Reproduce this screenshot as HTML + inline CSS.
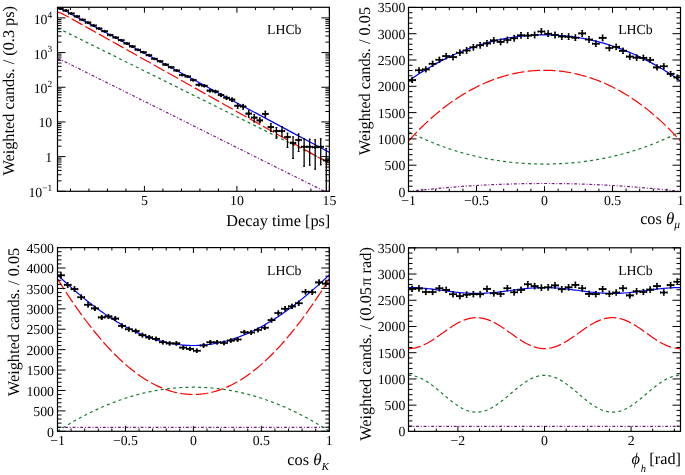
<!DOCTYPE html>
<html><head><meta charset="utf-8"><style>html,body{margin:0;padding:0;background:#fff;width:685px;height:475px;overflow:hidden}svg{display:block;will-change:transform;text-rendering:geometricPrecision}</style></head><body>
<svg width="685" height="475" viewBox="0 0 685 475" font-family='"Liberation Serif", serif'>
<rect width="685" height="475" fill="#fff"/>
<defs>
<clipPath id="cTL"><rect x="57.5" y="7.3" width="271.9" height="184.0"/></clipPath>
<clipPath id="cTR"><rect x="408.5" y="7.4" width="272.0" height="184.1"/></clipPath>
<clipPath id="cBL"><rect x="57.5" y="247.6" width="271.8" height="183.70000000000002"/></clipPath>
<clipPath id="cBR"><rect x="408.5" y="247.8" width="272.0" height="183.59999999999997"/></clipPath>
</defs>
<path d="M57.50 59.27 L58.50 59.40 L59.50 59.64 L60.50 59.95 L61.50 60.31 L62.50 60.71 L63.50 61.14 L64.50 61.59 L65.50 62.06 L66.50 62.53 L67.50 63.01 L68.50 63.50 L69.50 63.99 L70.50 64.48 L90.50 74.45 L110.50 84.44 L130.50 94.43 L150.50 104.41 L170.50 114.40 L190.50 124.39 L210.50 134.38 L230.50 144.37 L250.50 154.35 L270.50 164.34 L290.50 174.33 L310.50 184.32 L330.00 194.06" fill="none" stroke="#7a1a8c" stroke-width="1.2" stroke-dasharray="2.9 1.85 0.95 1.85" clip-path="url(#cTL)" stroke-linejoin="round"/>
<path d="M57.50 28.50 L58.50 28.83 L59.50 29.20 L60.50 29.61 L61.50 30.04 L62.50 30.49 L63.50 30.96 L64.50 31.43 L65.50 31.91 L66.50 32.39 L67.50 32.88 L68.50 33.37 L69.50 33.86 L70.50 34.35 L90.50 44.25 L110.50 54.15 L130.50 64.06 L150.50 73.97 L170.50 83.87 L190.50 93.78 L210.50 103.68 L230.50 113.59 L250.50 123.50 L270.50 133.40 L290.50 143.31 L310.50 153.21 L330.00 162.87" fill="none" stroke="#157a2a" stroke-width="1.2" stroke-dasharray="3.0 3.23" clip-path="url(#cTL)" stroke-linejoin="round"/>
<path d="M57.50 12.15 L58.50 12.35 L59.50 12.64 L60.50 13.02 L61.50 13.44 L62.50 13.91 L63.50 14.40 L64.50 14.91 L65.50 15.44 L66.50 15.97 L67.50 16.51 L68.50 17.06 L69.50 17.62 L70.50 18.17 L90.50 29.38 L110.50 40.61 L130.50 51.84 L150.50 63.06 L170.50 74.29 L190.50 85.52 L210.50 96.75 L230.50 107.98 L250.50 119.20 L270.50 130.43 L290.50 141.66 L310.50 152.89 L330.00 163.84" fill="none" stroke="#ff0000" stroke-width="1.2" stroke-dasharray="12.4 3.28" clip-path="url(#cTL)" stroke-linejoin="round"/>
<path d="M57.50 7.97 L58.50 8.14 L59.50 8.41 L60.50 8.76 L61.50 9.16 L62.50 9.60 L63.50 10.07 L64.50 10.55 L65.50 11.05 L66.50 11.56 L67.50 12.08 L68.50 12.60 L69.50 13.13 L70.50 13.66 L90.50 24.37 L110.50 35.09 L130.50 45.82 L150.50 56.54 L170.50 67.26 L190.50 77.99 L210.50 88.71 L230.50 99.44 L250.50 110.16 L270.50 120.88 L290.50 131.61 L310.50 142.33 L330.00 152.79" fill="none" stroke="#0000ff" stroke-width="1.2" clip-path="url(#cTL)" stroke-linejoin="round"/>
<path d="M57.19 8.40H63.43M62.73 10.60H68.97M68.27 13.50H74.51M73.81 16.40H80.05M79.36 19.70H85.60M84.90 22.60H91.14M90.44 25.50H96.68M95.98 28.50H102.22M101.52 31.20H107.76M107.06 35.00H113.30M112.60 37.50H118.84M118.14 40.20H124.38M123.68 43.40H129.92M129.22 46.40H135.46M134.77 49.70H141.01M140.31 52.20H146.55M145.85 55.20H152.09M151.39 58.80H157.63M156.93 61.30H163.17M162.47 64.60H168.71M168.01 67.30H174.25M173.55 70.50H179.79M179.09 75.00H185.33M184.63 76.50H190.87M190.18 80.00H196.42M195.72 84.80H201.96M201.26 85.80H207.50M206.80 90.60H213.04M212.34 91.50H218.58M217.88 95.00H224.12M223.42 97.70H229.66M228.96 99.60H235.20M234.50 105.80H240.74M240.04 106.50H246.28M245.59 113.60H251.83M251.13 117.60H257.37M256.67 120.40H262.91M262.21 113.90H268.45M267.75 127.10H273.99M273.29 131.00H279.53M278.83 131.00H285.07M284.37 137.00H290.61M289.91 143.00H296.15M295.45 140.00H301.69M301.00 146.80H307.24M306.54 146.80H312.78M312.08 147.30H318.32M317.62 146.80H323.86M323.16 160.30H329.40" stroke="#000" stroke-width="1.6" fill="none" clip-path="url(#cTL)"/>
<path d="M60.31 8.29V8.51M65.85 10.48V10.72M71.39 13.37V13.63M76.93 16.26V16.54M82.48 19.54V19.86M88.02 22.42V22.78M93.56 25.31V25.70M99.10 28.29V28.72M104.64 30.97V31.44M110.18 34.74V35.27M115.72 37.21V37.79M121.26 39.89V40.52M126.80 43.05V43.76M132.34 46.02V46.79M137.89 49.27V50.14M143.43 51.74V52.68M148.97 54.69V55.73M154.51 58.23V59.40M160.05 60.68V61.95M165.59 63.91V65.33M171.13 66.54V68.10M176.67 69.66V71.39M182.21 74.03V76.04M187.75 75.48V77.59M193.30 78.86V81.23M198.84 83.47V86.26M204.38 84.43V87.31M209.92 89.00V92.38M215.46 89.86V93.34M221.00 93.17V97.09M226.54 95.71V100.00M232.08 97.49V102.06M237.62 103.24V108.88M243.16 103.89V109.66M248.71 110.36V117.73M254.25 113.96V122.42M259.79 117.40V123.20M265.33 110.70V117.40M270.87 123.20V132.00M276.41 127.00V138.70M281.95 126.10V136.80M287.49 132.70V148.00M293.03 136.40V158.90M298.57 133.60V152.00M304.12 138.40V166.70M309.66 138.70V165.70M315.20 139.30V169.70M320.74 138.30V165.30M326.28 148.00V193.00" stroke="#000" stroke-width="1.3" fill="none" clip-path="url(#cTL)"/>
<path d="M57.69 7.30v2.20M62.93 7.30v2.20M59.41 8.79h1.80M59.41 8.01h1.80M63.23 9.50v2.20M68.47 9.50v2.20M64.95 10.98h1.80M64.95 10.22h1.80M68.77 12.40v2.20M74.01 12.40v2.20M70.49 13.87h1.80M70.49 13.13h1.80M74.31 15.30v2.20M79.55 15.30v2.20M76.03 16.76h1.80M76.03 16.04h1.80M79.86 18.60v2.20M85.10 18.60v2.20M81.58 20.04h1.80M81.58 19.36h1.80M85.40 21.50v2.20M90.64 21.50v2.20M87.12 22.92h1.80M87.12 22.28h1.80M90.94 24.40v2.20M96.18 24.40v2.20M92.66 25.81h1.80M92.66 25.20h1.80M96.48 27.40v2.20M101.72 27.40v2.20M98.20 28.79h1.80M98.20 28.22h1.80M102.02 30.10v2.20M107.26 30.10v2.20M103.74 31.47h1.80M103.74 30.94h1.80M107.56 33.90v2.20M112.80 33.90v2.20M109.28 35.24h1.80M109.28 34.77h1.80M113.10 36.40v2.20M118.34 36.40v2.20M114.82 37.71h1.80M114.82 37.29h1.80M118.64 39.10v2.20M123.88 39.10v2.20M120.36 40.39h1.80M120.36 40.02h1.80M124.18 42.30v2.20M129.42 42.30v2.20M125.90 43.55h1.80M125.90 43.26h1.80M129.72 45.30v2.20M134.96 45.30v2.20M131.44 46.52h1.80M131.44 46.29h1.80M135.27 48.60v2.20M140.51 48.60v2.20M136.99 49.77h1.80M136.99 49.64h1.80M140.81 51.10v2.20M146.05 51.10v2.20M142.53 52.24h1.80M142.53 52.18h1.80M146.35 54.10v2.20M151.59 54.10v2.20M148.07 55.19h1.80M148.07 55.23h1.80M151.89 57.70v2.20M157.13 57.70v2.20M153.61 58.73h1.80M153.61 58.90h1.80M157.43 60.20v2.20M162.67 60.20v2.20M159.15 61.18h1.80M159.15 61.45h1.80M162.97 63.50v2.20M168.21 63.50v2.20M164.69 64.41h1.80M164.69 64.83h1.80M168.51 66.20v2.20M173.75 66.20v2.20M170.23 67.04h1.80M170.23 67.60h1.80M174.05 69.40v2.20M179.29 69.40v2.20M175.77 70.16h1.80M175.77 70.89h1.80M179.59 73.90v2.20M184.83 73.90v2.20M181.31 74.53h1.80M181.31 75.54h1.80M185.13 75.40v2.20M190.37 75.40v2.20M186.85 75.98h1.80M186.85 77.09h1.80M190.68 78.90v2.20M195.92 78.90v2.20M192.40 79.36h1.80M192.40 80.73h1.80M196.22 83.70v2.20M201.46 83.70v2.20M197.94 83.97h1.80M197.94 85.76h1.80M201.76 84.70v2.20M207.00 84.70v2.20M203.48 84.93h1.80M203.48 86.81h1.80M207.30 89.50v2.20M212.54 89.50v2.20M209.02 89.50h1.80M209.02 91.88h1.80M212.84 90.40v2.20M218.08 90.40v2.20M214.56 90.36h1.80M214.56 92.84h1.80M218.38 93.90v2.20M223.62 93.90v2.20M220.10 93.67h1.80M220.10 96.59h1.80M223.92 96.60v2.20M229.16 96.60v2.20M225.64 96.21h1.80M225.64 99.50h1.80M229.46 98.50v2.20M234.70 98.50v2.20M231.18 97.99h1.80M231.18 101.56h1.80M235.00 104.70v2.20M240.24 104.70v2.20M236.72 103.74h1.80M236.72 108.38h1.80M240.54 105.40v2.20M245.78 105.40v2.20M242.26 104.39h1.80M242.26 109.16h1.80M246.09 112.50v2.20M251.33 112.50v2.20M247.81 110.86h1.80M247.81 117.23h1.80M251.63 116.50v2.20M256.87 116.50v2.20M253.35 114.46h1.80M253.35 121.92h1.80M257.17 119.30v2.20M262.41 119.30v2.20M258.89 117.90h1.80M258.89 122.70h1.80M262.71 112.80v2.20M267.95 112.80v2.20M264.43 111.20h1.80M264.43 116.90h1.80M268.25 126.00v2.20M273.49 126.00v2.20M269.97 123.70h1.80M269.97 131.50h1.80M273.79 129.90v2.20M279.03 129.90v2.20M275.51 127.50h1.80M275.51 138.20h1.80M279.33 129.90v2.20M284.57 129.90v2.20M281.05 126.60h1.80M281.05 136.30h1.80M284.87 135.90v2.20M290.11 135.90v2.20M286.59 133.20h1.80M286.59 147.50h1.80M290.41 141.90v2.20M295.65 141.90v2.20M292.13 136.90h1.80M292.13 158.40h1.80M295.95 138.90v2.20M301.19 138.90v2.20M297.67 134.10h1.80M297.67 151.50h1.80M301.50 145.70v2.20M306.74 145.70v2.20M303.22 138.90h1.80M303.22 166.20h1.80M307.04 145.70v2.20M312.28 145.70v2.20M308.76 139.20h1.80M308.76 165.20h1.80M312.58 146.20v2.20M317.82 146.20v2.20M314.30 139.80h1.80M314.30 169.20h1.80M318.12 145.70v2.20M323.36 145.70v2.20M319.84 138.80h1.80M319.84 164.80h1.80M323.66 159.20v2.20M328.90 159.20v2.20M325.38 148.50h1.80M325.38 192.50h1.80" stroke="#000" stroke-width="1" fill="none" clip-path="url(#cTL)"/>
<g fill="#000" clip-path="url(#cTL)"><circle cx="60.31" cy="8.40" r="1.5"/><circle cx="65.85" cy="10.60" r="1.5"/><circle cx="71.39" cy="13.50" r="1.5"/><circle cx="76.93" cy="16.40" r="1.5"/><circle cx="82.48" cy="19.70" r="1.5"/><circle cx="88.02" cy="22.60" r="1.5"/><circle cx="93.56" cy="25.50" r="1.5"/><circle cx="99.10" cy="28.50" r="1.5"/><circle cx="104.64" cy="31.20" r="1.5"/><circle cx="110.18" cy="35.00" r="1.5"/><circle cx="115.72" cy="37.50" r="1.5"/><circle cx="121.26" cy="40.20" r="1.5"/><circle cx="126.80" cy="43.40" r="1.5"/><circle cx="132.34" cy="46.40" r="1.5"/><circle cx="137.89" cy="49.70" r="1.5"/><circle cx="143.43" cy="52.20" r="1.5"/><circle cx="148.97" cy="55.20" r="1.5"/><circle cx="154.51" cy="58.80" r="1.5"/><circle cx="160.05" cy="61.30" r="1.5"/><circle cx="165.59" cy="64.60" r="1.5"/><circle cx="171.13" cy="67.30" r="1.5"/><circle cx="176.67" cy="70.50" r="1.5"/><circle cx="182.21" cy="75.00" r="1.5"/><circle cx="187.75" cy="76.50" r="1.5"/><circle cx="193.30" cy="80.00" r="1.5"/><circle cx="198.84" cy="84.80" r="1.5"/><circle cx="204.38" cy="85.80" r="1.5"/><circle cx="209.92" cy="90.60" r="1.5"/><circle cx="215.46" cy="91.50" r="1.5"/><circle cx="221.00" cy="95.00" r="1.5"/><circle cx="226.54" cy="97.70" r="1.5"/><circle cx="232.08" cy="99.60" r="1.5"/><circle cx="237.62" cy="105.80" r="1.5"/><circle cx="243.16" cy="106.50" r="1.5"/><circle cx="248.71" cy="113.60" r="1.5"/><circle cx="254.25" cy="117.60" r="1.5"/><circle cx="259.79" cy="120.40" r="1.5"/><circle cx="265.33" cy="113.90" r="1.5"/><circle cx="270.87" cy="127.10" r="1.5"/><circle cx="276.41" cy="131.00" r="1.5"/><circle cx="281.95" cy="131.00" r="1.5"/><circle cx="287.49" cy="137.00" r="1.5"/><circle cx="293.03" cy="143.00" r="1.5"/><circle cx="298.57" cy="140.00" r="1.5"/><circle cx="304.12" cy="146.80" r="1.5"/><circle cx="309.66" cy="146.80" r="1.5"/><circle cx="315.20" cy="147.30" r="1.5"/><circle cx="320.74" cy="146.80" r="1.5"/><circle cx="326.28" cy="160.30" r="1.5"/></g>
<path d="M408.50 191.50 L410.77 191.24 L413.03 190.98 L415.30 190.72 L417.57 190.47 L419.83 190.22 L422.10 189.98 L424.37 189.74 L426.63 189.51 L428.90 189.28 L431.17 189.06 L433.43 188.84 L435.70 188.62 L437.97 188.41 L440.23 188.20 L442.50 188.00 L444.77 187.80 L447.03 187.61 L449.30 187.42 L451.57 187.24 L453.83 187.06 L456.10 186.88 L458.37 186.71 L460.63 186.54 L462.90 186.38 L465.17 186.22 L467.43 186.07 L469.70 185.92 L471.97 185.78 L474.23 185.64 L476.50 185.50 L478.77 185.37 L481.03 185.24 L483.30 185.12 L485.57 185.00 L487.83 184.89 L490.10 184.78 L492.37 184.68 L494.63 184.58 L496.90 184.48 L499.17 184.39 L501.43 184.30 L503.70 184.22 L505.97 184.14 L508.23 184.07 L510.50 184.00 L512.77 183.94 L515.03 183.88 L517.30 183.82 L519.57 183.77 L521.83 183.72 L524.10 183.68 L526.37 183.64 L528.63 183.61 L530.90 183.58 L533.17 183.56 L535.43 183.54 L537.70 183.52 L539.97 183.51 L542.23 183.50 L544.50 183.50 L546.77 183.50 L549.03 183.51 L551.30 183.52 L553.57 183.54 L555.83 183.56 L558.10 183.58 L560.37 183.61 L562.63 183.64 L564.90 183.68 L567.17 183.72 L569.43 183.77 L571.70 183.82 L573.97 183.88 L576.23 183.94 L578.50 184.00 L580.77 184.07 L583.03 184.14 L585.30 184.22 L587.57 184.30 L589.83 184.39 L592.10 184.48 L594.37 184.58 L596.63 184.68 L598.90 184.78 L601.17 184.89 L603.43 185.00 L605.70 185.12 L607.97 185.24 L610.23 185.37 L612.50 185.50 L614.77 185.64 L617.03 185.78 L619.30 185.92 L621.57 186.07 L623.83 186.22 L626.10 186.38 L628.37 186.54 L630.63 186.71 L632.90 186.88 L635.17 187.06 L637.43 187.24 L639.70 187.42 L641.97 187.61 L644.23 187.80 L646.50 188.00 L648.77 188.20 L651.03 188.41 L653.30 188.62 L655.57 188.84 L657.83 189.06 L660.10 189.28 L662.37 189.51 L664.63 189.74 L666.90 189.98 L669.17 190.22 L671.43 190.47 L673.70 190.72 L675.97 190.98 L678.23 191.24 L680.50 191.50" fill="none" stroke="#7a1a8c" stroke-width="1.2" stroke-dasharray="2.9 1.85 0.95 1.85" clip-path="url(#cTR)" stroke-linejoin="round"/>
<path d="M408.50 131.50 L410.77 132.67 L413.03 133.81 L415.30 134.92 L417.57 136.02 L419.83 137.08 L422.10 138.12 L424.37 139.14 L426.63 140.14 L428.90 141.11 L431.17 142.06 L433.43 142.98 L435.70 143.88 L437.97 144.76 L440.23 145.62 L442.50 146.45 L444.77 147.26 L447.03 148.06 L449.30 148.83 L451.57 149.57 L453.83 150.30 L456.10 151.01 L458.37 151.70 L460.63 152.36 L462.90 153.01 L465.17 153.64 L467.43 154.24 L469.70 154.83 L471.97 155.40 L474.23 155.95 L476.50 156.47 L478.77 156.99 L481.03 157.48 L483.30 157.95 L485.57 158.41 L487.83 158.84 L490.10 159.26 L492.37 159.66 L494.63 160.04 L496.90 160.41 L499.17 160.75 L501.43 161.08 L503.70 161.40 L505.97 161.69 L508.23 161.97 L510.50 162.23 L512.77 162.47 L515.03 162.69 L517.30 162.90 L519.57 163.10 L521.83 163.27 L524.10 163.43 L526.37 163.57 L528.63 163.69 L530.90 163.80 L533.17 163.89 L535.43 163.97 L537.70 164.03 L539.97 164.07 L542.23 164.09 L544.50 164.10 L546.77 164.09 L549.03 164.07 L551.30 164.03 L553.57 163.97 L555.83 163.89 L558.10 163.80 L560.37 163.69 L562.63 163.57 L564.90 163.43 L567.17 163.27 L569.43 163.10 L571.70 162.90 L573.97 162.69 L576.23 162.47 L578.50 162.23 L580.77 161.97 L583.03 161.69 L585.30 161.40 L587.57 161.08 L589.83 160.75 L592.10 160.41 L594.37 160.04 L596.63 159.66 L598.90 159.26 L601.17 158.84 L603.43 158.41 L605.70 157.95 L607.97 157.48 L610.23 156.99 L612.50 156.47 L614.77 155.95 L617.03 155.40 L619.30 154.83 L621.57 154.24 L623.83 153.64 L626.10 153.01 L628.37 152.36 L630.63 151.70 L632.90 151.01 L635.17 150.30 L637.43 149.57 L639.70 148.83 L641.97 148.06 L644.23 147.26 L646.50 146.45 L648.77 145.62 L651.03 144.76 L653.30 143.88 L655.57 142.98 L657.83 142.06 L660.10 141.11 L662.37 140.14 L664.63 139.14 L666.90 138.12 L669.17 137.08 L671.43 136.02 L673.70 134.92 L675.97 133.81 L678.23 132.67 L680.50 131.50" fill="none" stroke="#157a2a" stroke-width="1.2" stroke-dasharray="3.0 3.23" clip-path="url(#cTR)" stroke-linejoin="round"/>
<path d="M408.50 141.00 L410.77 138.50 L413.03 136.05 L415.30 133.65 L417.57 131.30 L419.83 129.01 L422.10 126.77 L424.37 124.57 L426.63 122.43 L428.90 120.34 L431.17 118.29 L433.43 116.30 L435.70 114.35 L437.97 112.45 L440.23 110.60 L442.50 108.79 L444.77 107.03 L447.03 105.31 L449.30 103.64 L451.57 102.02 L453.83 100.44 L456.10 98.90 L458.37 97.41 L460.63 95.96 L462.90 94.55 L465.17 93.19 L467.43 91.87 L469.70 90.59 L471.97 89.35 L474.23 88.16 L476.50 87.00 L478.77 85.89 L481.03 84.81 L483.30 83.78 L485.57 82.78 L487.83 81.83 L490.10 80.91 L492.37 80.04 L494.63 79.20 L496.90 78.40 L499.17 77.64 L501.43 76.92 L503.70 76.24 L505.97 75.59 L508.23 74.98 L510.50 74.41 L512.77 73.88 L515.03 73.39 L517.30 72.93 L519.57 72.51 L521.83 72.12 L524.10 71.78 L526.37 71.47 L528.63 71.19 L530.90 70.96 L533.17 70.76 L535.43 70.59 L537.70 70.46 L539.97 70.37 L542.23 70.32 L544.50 70.30 L546.77 70.32 L549.03 70.37 L551.30 70.46 L553.57 70.59 L555.83 70.76 L558.10 70.96 L560.37 71.19 L562.63 71.47 L564.90 71.78 L567.17 72.12 L569.43 72.51 L571.70 72.93 L573.97 73.39 L576.23 73.88 L578.50 74.41 L580.77 74.98 L583.03 75.59 L585.30 76.24 L587.57 76.92 L589.83 77.64 L592.10 78.40 L594.37 79.20 L596.63 80.04 L598.90 80.91 L601.17 81.83 L603.43 82.78 L605.70 83.78 L607.97 84.81 L610.23 85.89 L612.50 87.00 L614.77 88.16 L617.03 89.35 L619.30 90.59 L621.57 91.87 L623.83 93.19 L626.10 94.55 L628.37 95.96 L630.63 97.41 L632.90 98.90 L635.17 100.44 L637.43 102.02 L639.70 103.64 L641.97 105.31 L644.23 107.03 L646.50 108.79 L648.77 110.60 L651.03 112.45 L653.30 114.35 L655.57 116.30 L657.83 118.29 L660.10 120.34 L662.37 122.43 L664.63 124.57 L666.90 126.77 L669.17 129.01 L671.43 131.30 L673.70 133.65 L675.97 136.05 L678.23 138.50 L680.50 141.00" fill="none" stroke="#ff0000" stroke-width="1.2" stroke-dasharray="12.4 3.28" clip-path="url(#cTR)" stroke-linejoin="round"/>
<path d="M408.50 81.00 L410.77 79.40 L413.03 77.83 L415.30 76.29 L417.57 74.79 L419.83 73.31 L422.10 71.87 L424.37 70.46 L426.63 69.08 L428.90 67.73 L431.17 66.40 L433.43 65.11 L435.70 63.85 L437.97 62.62 L440.23 61.42 L442.50 60.24 L444.77 59.09 L447.03 57.98 L449.30 56.89 L451.57 55.83 L453.83 54.80 L456.10 53.79 L458.37 52.81 L460.63 51.87 L462.90 50.94 L465.17 50.05 L467.43 49.18 L469.70 48.34 L471.97 47.52 L474.23 46.74 L476.50 45.98 L478.77 45.24 L481.03 44.53 L483.30 43.85 L485.57 43.19 L487.83 42.56 L490.10 41.95 L492.37 41.37 L494.63 40.82 L496.90 40.29 L499.17 39.79 L501.43 39.31 L503.70 38.85 L505.97 38.42 L508.23 38.02 L510.50 37.64 L512.77 37.29 L515.03 36.96 L517.30 36.65 L519.57 36.37 L521.83 36.12 L524.10 35.88 L526.37 35.68 L528.63 35.50 L530.90 35.34 L533.17 35.20 L535.43 35.09 L537.70 35.01 L539.97 34.95 L542.23 34.91 L544.50 34.90 L546.77 34.91 L549.03 34.95 L551.30 35.01 L553.57 35.09 L555.83 35.20 L558.10 35.34 L560.37 35.50 L562.63 35.68 L564.90 35.88 L567.17 36.12 L569.43 36.37 L571.70 36.65 L573.97 36.96 L576.23 37.29 L578.50 37.64 L580.77 38.02 L583.03 38.42 L585.30 38.85 L587.57 39.31 L589.83 39.79 L592.10 40.29 L594.37 40.82 L596.63 41.37 L598.90 41.95 L601.17 42.56 L603.43 43.19 L605.70 43.85 L607.97 44.53 L610.23 45.24 L612.50 45.98 L614.77 46.74 L617.03 47.52 L619.30 48.34 L621.57 49.18 L623.83 50.05 L626.10 50.94 L628.37 51.87 L630.63 52.81 L632.90 53.79 L635.17 54.80 L637.43 55.83 L639.70 56.89 L641.97 57.98 L644.23 59.09 L646.50 60.24 L648.77 61.42 L651.03 62.62 L653.30 63.85 L655.57 65.11 L657.83 66.40 L660.10 67.73 L662.37 69.08 L664.63 70.46 L666.90 71.87 L669.17 73.31 L671.43 74.79 L673.70 76.29 L675.97 77.83 L678.23 79.40 L680.50 81.00" fill="none" stroke="#0000ff" stroke-width="1.2" clip-path="url(#cTR)" stroke-linejoin="round"/>
<path d="M408.45 80.10H415.95M415.25 70.30H422.75M422.05 69.40H429.55M428.85 63.80H436.35M435.65 59.80H443.15M442.45 56.10H449.95M449.25 57.10H456.75M456.05 52.70H463.55M462.85 50.50H470.35M469.65 47.30H477.15M476.45 45.30H483.95M483.25 43.40H490.75M490.05 40.40H497.55M496.85 41.90H504.35M503.65 40.00H511.15M510.45 38.20H517.95M517.25 35.30H524.75M524.05 35.60H531.55M530.85 35.00H538.35M537.65 31.50H545.15M544.45 33.70H551.95M551.25 35.00H558.75M558.05 36.50H565.55M564.85 36.70H572.35M571.65 37.70H579.15M578.45 33.40H585.95M585.25 39.50H592.75M592.05 43.70H599.55M598.85 37.90H606.35M605.65 48.00H613.15M612.45 46.90H619.95M619.25 50.85H626.75M626.05 56.60H633.55M632.85 57.60H640.35M639.65 57.90H647.15M646.45 60.00H653.95M653.25 67.40H660.75M660.05 66.30H667.55M666.85 73.90H674.35M673.65 77.40H681.15" stroke="#000" stroke-width="1.6" fill="none" clip-path="url(#cTR)"/>
<path d="M412.20 77.32V82.88M419.00 67.40V73.20M425.80 66.49V72.31M432.60 60.82V66.78M439.40 56.77V62.83M446.20 53.03V59.17M453.00 54.04V60.16M459.80 49.59V55.81M466.60 47.37V53.63M473.40 44.13V50.47M480.20 42.11V48.49M487.00 40.19V46.61M493.80 37.16V43.64M500.60 38.67V45.13M507.40 36.75V43.25M514.20 34.93V41.47M521.00 32.00V38.60M527.80 32.31V38.89M534.60 31.70V38.30M541.40 28.16V34.84M548.20 30.39V37.01M555.00 31.70V38.30M561.80 33.22V39.78M568.60 33.42V39.98M575.40 34.43V40.97M582.20 30.08V36.72M589.00 36.25V42.75M595.80 40.49V46.91M602.60 34.63V41.17M609.40 44.84V51.16M616.20 43.73V50.07M623.00 47.72V53.98M629.80 53.54V59.66M636.60 54.55V60.65M643.40 54.85V60.95M650.20 56.98V63.02M657.00 64.46V70.34M663.80 63.35V69.25M670.60 71.04V76.76M677.40 74.58V80.22" stroke="#000" stroke-width="1.3" fill="none" clip-path="url(#cTR)"/>
<path d="M408.95 79.00v2.20M415.45 79.00v2.20M411.30 77.82h1.80M411.30 82.38h1.80M415.75 69.20v2.20M422.25 69.20v2.20M418.10 67.90h1.80M418.10 72.70h1.80M422.55 68.30v2.20M429.05 68.30v2.20M424.90 66.99h1.80M424.90 71.81h1.80M429.35 62.70v2.20M435.85 62.70v2.20M431.70 61.32h1.80M431.70 66.28h1.80M436.15 58.70v2.20M442.65 58.70v2.20M438.50 57.27h1.80M438.50 62.33h1.80M442.95 55.00v2.20M449.45 55.00v2.20M445.30 53.53h1.80M445.30 58.67h1.80M449.75 56.00v2.20M456.25 56.00v2.20M452.10 54.54h1.80M452.10 59.66h1.80M456.55 51.60v2.20M463.05 51.60v2.20M458.90 50.09h1.80M458.90 55.31h1.80M463.35 49.40v2.20M469.85 49.40v2.20M465.70 47.87h1.80M465.70 53.13h1.80M470.15 46.20v2.20M476.65 46.20v2.20M472.50 44.63h1.80M472.50 49.97h1.80M476.95 44.20v2.20M483.45 44.20v2.20M479.30 42.61h1.80M479.30 47.99h1.80M483.75 42.30v2.20M490.25 42.30v2.20M486.10 40.69h1.80M486.10 46.11h1.80M490.55 39.30v2.20M497.05 39.30v2.20M492.90 37.66h1.80M492.90 43.14h1.80M497.35 40.80v2.20M503.85 40.80v2.20M499.70 39.17h1.80M499.70 44.63h1.80M504.15 38.90v2.20M510.65 38.90v2.20M506.50 37.25h1.80M506.50 42.75h1.80M510.95 37.10v2.20M517.45 37.10v2.20M513.30 35.43h1.80M513.30 40.97h1.80M517.75 34.20v2.20M524.25 34.20v2.20M520.10 32.50h1.80M520.10 38.10h1.80M524.55 34.50v2.20M531.05 34.50v2.20M526.90 32.81h1.80M526.90 38.39h1.80M531.35 33.90v2.20M537.85 33.90v2.20M533.70 32.20h1.80M533.70 37.80h1.80M538.15 30.40v2.20M544.65 30.40v2.20M540.50 28.66h1.80M540.50 34.34h1.80M544.95 32.60v2.20M551.45 32.60v2.20M547.30 30.89h1.80M547.30 36.51h1.80M551.75 33.90v2.20M558.25 33.90v2.20M554.10 32.20h1.80M554.10 37.80h1.80M558.55 35.40v2.20M565.05 35.40v2.20M560.90 33.72h1.80M560.90 39.28h1.80M565.35 35.60v2.20M571.85 35.60v2.20M567.70 33.92h1.80M567.70 39.48h1.80M572.15 36.60v2.20M578.65 36.60v2.20M574.50 34.93h1.80M574.50 40.47h1.80M578.95 32.30v2.20M585.45 32.30v2.20M581.30 30.58h1.80M581.30 36.22h1.80M585.75 38.40v2.20M592.25 38.40v2.20M588.10 36.75h1.80M588.10 42.25h1.80M592.55 42.60v2.20M599.05 42.60v2.20M594.90 40.99h1.80M594.90 46.41h1.80M599.35 36.80v2.20M605.85 36.80v2.20M601.70 35.13h1.80M601.70 40.67h1.80M606.15 46.90v2.20M612.65 46.90v2.20M608.50 45.34h1.80M608.50 50.66h1.80M612.95 45.80v2.20M619.45 45.80v2.20M615.30 44.23h1.80M615.30 49.57h1.80M619.75 49.75v2.20M626.25 49.75v2.20M622.10 48.22h1.80M622.10 53.48h1.80M626.55 55.50v2.20M633.05 55.50v2.20M628.90 54.04h1.80M628.90 59.16h1.80M633.35 56.50v2.20M639.85 56.50v2.20M635.70 55.05h1.80M635.70 60.15h1.80M640.15 56.80v2.20M646.65 56.80v2.20M642.50 55.35h1.80M642.50 60.45h1.80M646.95 58.90v2.20M653.45 58.90v2.20M649.30 57.48h1.80M649.30 62.52h1.80M653.75 66.30v2.20M660.25 66.30v2.20M656.10 64.96h1.80M656.10 69.84h1.80M660.55 65.20v2.20M667.05 65.20v2.20M662.90 63.85h1.80M662.90 68.75h1.80M667.35 72.80v2.20M673.85 72.80v2.20M669.70 71.54h1.80M669.70 76.26h1.80M674.15 76.30v2.20M680.65 76.30v2.20M676.50 75.08h1.80M676.50 79.72h1.80" stroke="#000" stroke-width="1" fill="none" clip-path="url(#cTR)"/>
<g fill="#000" clip-path="url(#cTR)"><circle cx="412.20" cy="80.10" r="1.5"/><circle cx="419.00" cy="70.30" r="1.5"/><circle cx="425.80" cy="69.40" r="1.5"/><circle cx="432.60" cy="63.80" r="1.5"/><circle cx="439.40" cy="59.80" r="1.5"/><circle cx="446.20" cy="56.10" r="1.5"/><circle cx="453.00" cy="57.10" r="1.5"/><circle cx="459.80" cy="52.70" r="1.5"/><circle cx="466.60" cy="50.50" r="1.5"/><circle cx="473.40" cy="47.30" r="1.5"/><circle cx="480.20" cy="45.30" r="1.5"/><circle cx="487.00" cy="43.40" r="1.5"/><circle cx="493.80" cy="40.40" r="1.5"/><circle cx="500.60" cy="41.90" r="1.5"/><circle cx="507.40" cy="40.00" r="1.5"/><circle cx="514.20" cy="38.20" r="1.5"/><circle cx="521.00" cy="35.30" r="1.5"/><circle cx="527.80" cy="35.60" r="1.5"/><circle cx="534.60" cy="35.00" r="1.5"/><circle cx="541.40" cy="31.50" r="1.5"/><circle cx="548.20" cy="33.70" r="1.5"/><circle cx="555.00" cy="35.00" r="1.5"/><circle cx="561.80" cy="36.50" r="1.5"/><circle cx="568.60" cy="36.70" r="1.5"/><circle cx="575.40" cy="37.70" r="1.5"/><circle cx="582.20" cy="33.40" r="1.5"/><circle cx="589.00" cy="39.50" r="1.5"/><circle cx="595.80" cy="43.70" r="1.5"/><circle cx="602.60" cy="37.90" r="1.5"/><circle cx="609.40" cy="48.00" r="1.5"/><circle cx="616.20" cy="46.90" r="1.5"/><circle cx="623.00" cy="50.85" r="1.5"/><circle cx="629.80" cy="56.60" r="1.5"/><circle cx="636.60" cy="57.60" r="1.5"/><circle cx="643.40" cy="57.90" r="1.5"/><circle cx="650.20" cy="60.00" r="1.5"/><circle cx="657.00" cy="67.40" r="1.5"/><circle cx="663.80" cy="66.30" r="1.5"/><circle cx="670.60" cy="73.90" r="1.5"/><circle cx="677.40" cy="77.40" r="1.5"/></g>
<path d="M57.50 427.40 L125.45 427.40 L193.40 427.40 L261.35 427.40 L329.30 427.40" fill="none" stroke="#7a1a8c" stroke-width="1.2" stroke-dasharray="2.9 1.85 0.95 1.85" clip-path="url(#cBL)" stroke-linejoin="round"/>
<path d="M57.50 431.30 L59.77 429.84 L62.03 428.41 L64.30 427.00 L66.56 425.62 L68.83 424.26 L71.09 422.92 L73.36 421.61 L75.62 420.32 L77.89 419.06 L80.15 417.82 L82.42 416.61 L84.68 415.42 L86.95 414.26 L89.21 413.12 L91.47 412.01 L93.74 410.92 L96.00 409.85 L98.27 408.81 L100.53 407.79 L102.80 406.80 L105.06 405.83 L107.33 404.89 L109.59 403.97 L111.86 403.08 L114.13 402.21 L116.39 401.36 L118.66 400.54 L120.92 399.74 L123.19 398.97 L125.45 398.23 L127.72 397.50 L129.98 396.80 L132.25 396.13 L134.51 395.48 L136.78 394.86 L139.04 394.26 L141.31 393.68 L143.57 393.13 L145.84 392.60 L148.10 392.10 L150.37 391.62 L152.63 391.17 L154.90 390.74 L157.16 390.34 L159.43 389.96 L161.69 389.60 L163.95 389.27 L166.22 388.96 L168.49 388.68 L170.75 388.43 L173.01 388.19 L175.28 387.98 L177.55 387.80 L179.81 387.64 L182.07 387.51 L184.34 387.40 L186.60 387.31 L188.87 387.25 L191.13 387.21 L193.40 387.20 L195.66 387.21 L197.93 387.25 L200.20 387.31 L202.46 387.40 L204.72 387.51 L206.99 387.64 L209.26 387.80 L211.52 387.98 L213.78 388.19 L216.05 388.43 L218.31 388.68 L220.58 388.96 L222.84 389.27 L225.11 389.60 L227.38 389.96 L229.64 390.34 L231.91 390.74 L234.17 391.17 L236.44 391.62 L238.70 392.10 L240.97 392.60 L243.23 393.13 L245.50 393.68 L247.76 394.26 L250.03 394.86 L252.29 395.48 L254.56 396.13 L256.82 396.80 L259.09 397.50 L261.35 398.23 L263.62 398.97 L265.88 399.74 L268.14 400.54 L270.41 401.36 L272.68 402.21 L274.94 403.08 L277.21 403.97 L279.47 404.89 L281.74 405.83 L284.00 406.80 L286.26 407.79 L288.53 408.81 L290.79 409.85 L293.06 410.92 L295.33 412.01 L297.59 413.12 L299.86 414.26 L302.12 415.42 L304.38 416.61 L306.65 417.82 L308.92 419.06 L311.18 420.32 L313.44 421.61 L315.71 422.92 L317.98 424.26 L320.24 425.62 L322.50 427.00 L324.77 428.41 L327.04 429.84 L329.30 431.30" fill="none" stroke="#157a2a" stroke-width="1.2" stroke-dasharray="3.0 3.23" clip-path="url(#cBL)" stroke-linejoin="round"/>
<path d="M57.50 278.80 L59.77 282.42 L62.03 286.00 L64.30 289.53 L66.56 293.01 L68.83 296.43 L71.09 299.81 L73.36 303.14 L75.62 306.42 L77.89 309.64 L80.15 312.82 L82.42 315.94 L84.68 319.00 L86.95 322.01 L89.21 324.97 L91.47 327.87 L93.74 330.71 L96.00 333.50 L98.27 336.23 L100.53 338.91 L102.80 341.52 L105.06 344.08 L107.33 346.58 L109.59 349.02 L111.86 351.40 L114.13 353.72 L116.39 355.97 L118.66 358.17 L120.92 360.31 L123.19 362.38 L125.45 364.39 L127.72 366.34 L129.98 368.23 L132.25 370.05 L134.51 371.81 L136.78 373.51 L139.04 375.14 L141.31 376.71 L143.57 378.21 L145.84 379.65 L148.10 381.02 L150.37 382.33 L152.63 383.57 L154.90 384.75 L157.16 385.86 L159.43 386.90 L161.69 387.88 L163.95 388.79 L166.22 389.63 L168.49 390.41 L170.75 391.12 L173.01 391.76 L175.28 392.33 L177.55 392.84 L179.81 393.28 L182.07 393.65 L184.34 393.96 L186.60 394.20 L188.87 394.36 L191.13 394.47 L193.40 394.50 L195.66 394.47 L197.93 394.36 L200.20 394.20 L202.46 393.96 L204.72 393.65 L206.99 393.28 L209.26 392.84 L211.52 392.33 L213.78 391.76 L216.05 391.12 L218.31 390.41 L220.58 389.63 L222.84 388.79 L225.11 387.88 L227.38 386.90 L229.64 385.86 L231.91 384.75 L234.17 383.57 L236.44 382.33 L238.70 381.02 L240.97 379.65 L243.23 378.21 L245.50 376.71 L247.76 375.14 L250.03 373.51 L252.29 371.81 L254.56 370.05 L256.82 368.23 L259.09 366.34 L261.35 364.39 L263.62 362.38 L265.88 360.31 L268.14 358.17 L270.41 355.97 L272.68 353.72 L274.94 351.40 L277.21 349.02 L279.47 346.58 L281.74 344.08 L284.00 341.52 L286.26 338.91 L288.53 336.23 L290.79 333.50 L293.06 330.71 L295.33 327.87 L297.59 324.97 L299.86 322.01 L302.12 319.00 L304.38 315.94 L306.65 312.82 L308.92 309.64 L311.18 306.42 L313.44 303.14 L315.71 299.81 L317.98 296.43 L320.24 293.01 L322.50 289.53 L324.77 286.00 L327.04 282.42 L329.30 278.80" fill="none" stroke="#ff0000" stroke-width="1.2" stroke-dasharray="12.4 3.28" clip-path="url(#cBL)" stroke-linejoin="round"/>
<path d="M57.50 274.90 L59.77 277.03 L62.03 279.14 L64.30 281.23 L66.56 283.29 L68.83 285.33 L71.09 287.34 L73.36 289.33 L75.62 291.29 L77.89 293.23 L80.15 295.14 L82.42 297.01 L84.68 298.86 L86.95 300.69 L89.21 302.48 L91.47 304.24 L93.74 305.97 L96.00 307.67 L98.27 309.33 L100.53 310.97 L102.80 312.57 L105.06 314.13 L107.33 315.67 L109.59 317.17 L111.86 318.63 L114.13 320.06 L116.39 321.46 L118.66 322.81 L120.92 324.14 L123.19 325.42 L125.45 326.67 L127.72 327.88 L129.98 329.05 L132.25 330.19 L134.51 331.28 L136.78 332.34 L139.04 333.36 L141.31 334.34 L143.57 335.28 L145.84 336.17 L148.10 337.03 L150.37 337.85 L152.63 338.63 L154.90 339.37 L157.16 340.06 L159.43 340.72 L161.69 341.33 L163.95 341.90 L166.22 342.43 L168.49 342.92 L170.75 343.37 L173.01 343.77 L175.28 344.13 L177.55 344.45 L179.81 344.73 L182.07 344.97 L184.34 345.16 L186.60 345.31 L188.87 345.41 L191.13 345.48 L193.40 345.50 L195.66 345.48 L197.93 345.41 L200.20 345.31 L202.46 345.16 L204.72 344.97 L206.99 344.73 L209.26 344.45 L211.52 344.13 L213.78 343.77 L216.05 343.37 L218.31 342.92 L220.58 342.43 L222.84 341.90 L225.11 341.33 L227.38 340.72 L229.64 340.06 L231.91 339.37 L234.17 338.63 L236.44 337.85 L238.70 337.03 L240.97 336.17 L243.23 335.28 L245.50 334.34 L247.76 333.36 L250.03 332.34 L252.29 331.28 L254.56 330.19 L256.82 329.05 L259.09 327.88 L261.35 326.67 L263.62 325.42 L265.88 324.14 L268.14 322.81 L270.41 321.46 L272.68 320.06 L274.94 318.63 L277.21 317.17 L279.47 315.67 L281.74 314.13 L284.00 312.57 L286.26 310.97 L288.53 309.33 L290.79 307.67 L293.06 305.97 L295.33 304.24 L297.59 302.48 L299.86 300.69 L302.12 298.86 L304.38 297.01 L306.65 295.14 L308.92 293.23 L311.18 291.29 L313.44 289.33 L315.71 287.34 L317.98 285.33 L320.24 283.29 L322.50 281.23 L324.77 279.14 L327.04 277.03 L329.30 274.90" fill="none" stroke="#0000ff" stroke-width="1.2" clip-path="url(#cBL)" stroke-linejoin="round"/>
<path d="M57.15 275.30H64.64M63.94 284.90H71.44M70.74 289.10H78.23M77.53 297.20H85.03M84.33 304.80H91.83M91.12 308.40H98.62M97.92 317.40H105.42M104.72 316.40H112.21M111.51 318.60H119.01M118.30 325.90H125.80M125.10 329.20H132.59M131.90 331.10H139.39M138.69 335.10H146.19M145.49 337.40H152.98M152.28 338.90H159.78M159.08 342.20H166.57M165.87 343.40H173.37M172.66 343.40H180.16M179.46 347.60H186.96M186.25 348.90H193.75M193.05 350.70H200.55M199.84 345.50H207.34M206.64 342.30H214.13M213.44 342.30H220.93M220.23 343.00H227.73M227.03 340.60H234.52M233.82 339.50H241.32M240.62 332.20H248.11M247.41 332.50H254.91M254.20 330.00H261.70M261.00 327.70H268.50M267.80 320.10H275.29M274.59 313.00H282.08M281.39 308.70H288.88M288.18 306.40H295.68M294.97 303.30H302.47M301.77 291.70H309.27M308.56 292.30H316.06M315.36 282.40H322.86M322.16 283.60H329.65" stroke="#000" stroke-width="1.6" fill="none" clip-path="url(#cBL)"/>
<path d="M60.90 272.40V278.20M67.69 282.09V287.71M74.49 286.33V291.87M81.28 294.51V299.89M88.08 302.19V307.41M94.87 305.82V310.98M101.67 314.92V319.88M108.46 313.91V318.89M115.26 316.13V321.07M122.05 323.51V328.29M128.85 326.85V331.55M135.64 328.77V333.43M142.44 332.82V337.38M149.23 335.15V339.65M156.03 336.67V341.13M162.82 340.01V344.39M169.62 341.22V345.58M176.41 341.22V345.58M183.21 345.47V349.73M190.00 346.79V351.01M196.80 348.61V352.79M203.59 343.35V347.65M210.39 340.11V344.49M217.18 340.11V344.49M223.98 340.82V345.18M230.77 338.39V342.81M237.57 337.27V341.73M244.36 329.89V334.51M251.16 330.19V334.81M257.95 327.66V332.34M264.75 325.34V330.06M271.54 317.65V322.55M278.34 310.47V315.53M285.13 306.13V311.27M291.93 303.80V309.00M298.72 300.67V305.93M305.52 288.95V294.45M312.31 289.56V295.04M319.11 279.56V285.24M325.90 280.78V286.42" stroke="#000" stroke-width="1.3" fill="none" clip-path="url(#cBL)"/>
<path d="M57.65 274.20v2.20M64.14 274.20v2.20M60.00 272.90h1.80M60.00 277.70h1.80M64.44 283.80v2.20M70.94 283.80v2.20M66.79 282.59h1.80M66.79 287.21h1.80M71.24 288.00v2.20M77.73 288.00v2.20M73.59 286.83h1.80M73.59 291.37h1.80M78.03 296.10v2.20M84.53 296.10v2.20M80.38 295.01h1.80M80.38 299.39h1.80M84.83 303.70v2.20M91.33 303.70v2.20M87.18 302.69h1.80M87.18 306.91h1.80M91.62 307.30v2.20M98.12 307.30v2.20M93.97 306.32h1.80M93.97 310.48h1.80M98.42 316.30v2.20M104.92 316.30v2.20M100.77 315.42h1.80M100.77 319.38h1.80M105.22 315.30v2.20M111.71 315.30v2.20M107.56 314.41h1.80M107.56 318.39h1.80M112.01 317.50v2.20M118.51 317.50v2.20M114.36 316.63h1.80M114.36 320.57h1.80M118.80 324.80v2.20M125.30 324.80v2.20M121.15 324.01h1.80M121.15 327.79h1.80M125.60 328.10v2.20M132.09 328.10v2.20M127.95 327.35h1.80M127.95 331.05h1.80M132.40 330.00v2.20M138.89 330.00v2.20M134.74 329.27h1.80M134.74 332.93h1.80M139.19 334.00v2.20M145.69 334.00v2.20M141.54 333.32h1.80M141.54 336.88h1.80M145.99 336.30v2.20M152.48 336.30v2.20M148.33 335.65h1.80M148.33 339.15h1.80M152.78 337.80v2.20M159.28 337.80v2.20M155.13 337.17h1.80M155.13 340.63h1.80M159.58 341.10v2.20M166.07 341.10v2.20M161.92 340.51h1.80M161.92 343.89h1.80M166.37 342.30v2.20M172.87 342.30v2.20M168.72 341.72h1.80M168.72 345.08h1.80M173.16 342.30v2.20M179.66 342.30v2.20M175.51 341.72h1.80M175.51 345.08h1.80M179.96 346.50v2.20M186.46 346.50v2.20M182.31 345.97h1.80M182.31 349.23h1.80M186.75 347.80v2.20M193.25 347.80v2.20M189.10 347.29h1.80M189.10 350.51h1.80M193.55 349.60v2.20M200.05 349.60v2.20M195.90 349.11h1.80M195.90 352.29h1.80M200.34 344.40v2.20M206.84 344.40v2.20M202.69 343.85h1.80M202.69 347.15h1.80M207.14 341.20v2.20M213.63 341.20v2.20M209.49 340.61h1.80M209.49 343.99h1.80M213.94 341.20v2.20M220.43 341.20v2.20M216.28 340.61h1.80M216.28 343.99h1.80M220.73 341.90v2.20M227.23 341.90v2.20M223.08 341.32h1.80M223.08 344.68h1.80M227.53 339.50v2.20M234.02 339.50v2.20M229.87 338.89h1.80M229.87 342.31h1.80M234.32 338.40v2.20M240.82 338.40v2.20M236.67 337.77h1.80M236.67 341.23h1.80M241.12 331.10v2.20M247.61 331.10v2.20M243.46 330.39h1.80M243.46 334.01h1.80M247.91 331.40v2.20M254.41 331.40v2.20M250.26 330.69h1.80M250.26 334.31h1.80M254.70 328.90v2.20M261.20 328.90v2.20M257.05 328.16h1.80M257.05 331.84h1.80M261.50 326.60v2.20M268.00 326.60v2.20M263.85 325.84h1.80M263.85 329.56h1.80M268.30 319.00v2.20M274.79 319.00v2.20M270.64 318.15h1.80M270.64 322.05h1.80M275.09 311.90v2.20M281.58 311.90v2.20M277.44 310.97h1.80M277.44 315.03h1.80M281.89 307.60v2.20M288.38 307.60v2.20M284.23 306.63h1.80M284.23 310.77h1.80M288.68 305.30v2.20M295.18 305.30v2.20M291.03 304.30h1.80M291.03 308.50h1.80M295.47 302.20v2.20M301.97 302.20v2.20M297.82 301.17h1.80M297.82 305.43h1.80M302.27 290.60v2.20M308.77 290.60v2.20M304.62 289.45h1.80M304.62 293.95h1.80M309.06 291.20v2.20M315.56 291.20v2.20M311.41 290.06h1.80M311.41 294.54h1.80M315.86 281.30v2.20M322.36 281.30v2.20M318.21 280.06h1.80M318.21 284.74h1.80M322.66 282.50v2.20M329.15 282.50v2.20M325.00 281.28h1.80M325.00 285.92h1.80" stroke="#000" stroke-width="1" fill="none" clip-path="url(#cBL)"/>
<g fill="#000" clip-path="url(#cBL)"><circle cx="60.90" cy="275.30" r="1.5"/><circle cx="67.69" cy="284.90" r="1.5"/><circle cx="74.49" cy="289.10" r="1.5"/><circle cx="81.28" cy="297.20" r="1.5"/><circle cx="88.08" cy="304.80" r="1.5"/><circle cx="94.87" cy="308.40" r="1.5"/><circle cx="101.67" cy="317.40" r="1.5"/><circle cx="108.46" cy="316.40" r="1.5"/><circle cx="115.26" cy="318.60" r="1.5"/><circle cx="122.05" cy="325.90" r="1.5"/><circle cx="128.85" cy="329.20" r="1.5"/><circle cx="135.64" cy="331.10" r="1.5"/><circle cx="142.44" cy="335.10" r="1.5"/><circle cx="149.23" cy="337.40" r="1.5"/><circle cx="156.03" cy="338.90" r="1.5"/><circle cx="162.82" cy="342.20" r="1.5"/><circle cx="169.62" cy="343.40" r="1.5"/><circle cx="176.41" cy="343.40" r="1.5"/><circle cx="183.21" cy="347.60" r="1.5"/><circle cx="190.00" cy="348.90" r="1.5"/><circle cx="196.80" cy="350.70" r="1.5"/><circle cx="203.59" cy="345.50" r="1.5"/><circle cx="210.39" cy="342.30" r="1.5"/><circle cx="217.18" cy="342.30" r="1.5"/><circle cx="223.98" cy="343.00" r="1.5"/><circle cx="230.77" cy="340.60" r="1.5"/><circle cx="237.57" cy="339.50" r="1.5"/><circle cx="244.36" cy="332.20" r="1.5"/><circle cx="251.16" cy="332.50" r="1.5"/><circle cx="257.95" cy="330.00" r="1.5"/><circle cx="264.75" cy="327.70" r="1.5"/><circle cx="271.54" cy="320.10" r="1.5"/><circle cx="278.34" cy="313.00" r="1.5"/><circle cx="285.13" cy="308.70" r="1.5"/><circle cx="291.93" cy="306.40" r="1.5"/><circle cx="298.72" cy="303.30" r="1.5"/><circle cx="305.52" cy="291.70" r="1.5"/><circle cx="312.31" cy="292.30" r="1.5"/><circle cx="319.11" cy="282.40" r="1.5"/><circle cx="325.90" cy="283.60" r="1.5"/></g>
<path d="M408.50 426.42 L476.50 426.42 L544.50 426.42 L612.50 426.42 L680.50 426.42" fill="none" stroke="#7a1a8c" stroke-width="1.2" stroke-dasharray="2.9 1.85 0.95 1.85" clip-path="url(#cBR)" stroke-linejoin="round"/>
<path d="M408.50 375.32 L410.20 375.38 L411.90 375.55 L413.60 375.83 L415.30 376.23 L417.00 376.73 L418.70 377.33 L420.40 378.04 L422.10 378.84 L423.80 379.74 L425.50 380.72 L427.20 381.79 L428.90 382.92 L430.60 384.13 L432.30 385.39 L434.00 386.71 L435.70 388.06 L437.40 389.46 L439.10 390.88 L440.80 392.32 L442.50 393.76 L444.20 395.21 L445.90 396.65 L447.60 398.07 L449.30 399.46 L451.00 400.82 L452.70 402.13 L454.40 403.40 L456.10 404.60 L457.80 405.74 L459.50 406.80 L461.20 407.78 L462.90 408.68 L464.60 409.48 L466.30 410.19 L468.00 410.80 L469.70 411.30 L471.40 411.69 L473.10 411.97 L474.80 412.14 L476.50 412.20 L478.20 412.14 L479.90 411.97 L481.60 411.69 L483.30 411.30 L485.00 410.80 L486.70 410.19 L488.40 409.48 L490.10 408.68 L491.80 407.78 L493.50 406.80 L495.20 405.74 L496.90 404.60 L498.60 403.40 L500.30 402.13 L502.00 400.82 L503.70 399.46 L505.40 398.07 L507.10 396.65 L508.80 395.21 L510.50 393.76 L512.20 392.32 L513.90 390.88 L515.60 389.46 L517.30 388.06 L519.00 386.71 L520.70 385.39 L522.40 384.13 L524.10 382.92 L525.80 381.79 L527.50 380.72 L529.20 379.74 L530.90 378.84 L532.60 378.04 L534.30 377.33 L536.00 376.73 L537.70 376.23 L539.40 375.83 L541.10 375.55 L542.80 375.38 L544.50 375.32 L546.20 375.38 L547.90 375.55 L549.60 375.83 L551.30 376.23 L553.00 376.73 L554.70 377.33 L556.40 378.04 L558.10 378.84 L559.80 379.74 L561.50 380.72 L563.20 381.79 L564.90 382.92 L566.60 384.13 L568.30 385.39 L570.00 386.71 L571.70 388.06 L573.40 389.46 L575.10 390.88 L576.80 392.32 L578.50 393.76 L580.20 395.21 L581.90 396.65 L583.60 398.07 L585.30 399.46 L587.00 400.82 L588.70 402.13 L590.40 403.40 L592.10 404.60 L593.80 405.74 L595.50 406.80 L597.20 407.78 L598.90 408.68 L600.60 409.48 L602.30 410.19 L604.00 410.80 L605.70 411.30 L607.40 411.69 L609.10 411.97 L610.80 412.14 L612.50 412.20 L614.20 412.14 L615.90 411.97 L617.60 411.69 L619.30 411.30 L621.00 410.80 L622.70 410.19 L624.40 409.48 L626.10 408.68 L627.80 407.78 L629.50 406.80 L631.20 405.74 L632.90 404.60 L634.60 403.40 L636.30 402.13 L638.00 400.82 L639.70 399.46 L641.40 398.07 L643.10 396.65 L644.80 395.21 L646.50 393.76 L648.20 392.32 L649.90 390.88 L651.60 389.46 L653.30 388.06 L655.00 386.71 L656.70 385.39 L658.40 384.13 L660.10 382.92 L661.80 381.79 L663.50 380.72 L665.20 379.74 L666.90 378.84 L668.60 378.04 L670.30 377.33 L672.00 376.73 L673.70 376.23 L675.40 375.83 L677.10 375.55 L678.80 375.38 L680.50 375.32" fill="none" stroke="#157a2a" stroke-width="1.2" stroke-dasharray="3.0 3.23" clip-path="url(#cBR)" stroke-linejoin="round"/>
<path d="M408.50 348.62 L410.20 348.57 L411.90 348.43 L413.60 348.19 L415.30 347.86 L417.00 347.44 L418.70 346.93 L420.40 346.34 L422.10 345.66 L423.80 344.91 L425.50 344.08 L427.20 343.19 L428.90 342.23 L430.60 341.22 L432.30 340.16 L434.00 339.05 L435.70 337.91 L437.40 336.74 L439.10 335.55 L440.80 334.34 L442.50 333.12 L444.20 331.91 L445.90 330.70 L447.60 329.50 L449.30 328.33 L451.00 327.19 L452.70 326.08 L454.40 325.02 L456.10 324.01 L457.80 323.05 L459.50 322.16 L461.20 321.33 L462.90 320.58 L464.60 319.90 L466.30 319.31 L468.00 318.80 L469.70 318.38 L471.40 318.05 L473.10 317.81 L474.80 317.67 L476.50 317.62 L478.20 317.67 L479.90 317.81 L481.60 318.05 L483.30 318.38 L485.00 318.80 L486.70 319.31 L488.40 319.90 L490.10 320.58 L491.80 321.33 L493.50 322.16 L495.20 323.05 L496.90 324.01 L498.60 325.02 L500.30 326.08 L502.00 327.19 L503.70 328.33 L505.40 329.50 L507.10 330.70 L508.80 331.91 L510.50 333.12 L512.20 334.34 L513.90 335.55 L515.60 336.74 L517.30 337.91 L519.00 339.05 L520.70 340.16 L522.40 341.22 L524.10 342.23 L525.80 343.19 L527.50 344.08 L529.20 344.91 L530.90 345.66 L532.60 346.34 L534.30 346.93 L536.00 347.44 L537.70 347.86 L539.40 348.19 L541.10 348.43 L542.80 348.57 L544.50 348.62 L546.20 348.57 L547.90 348.43 L549.60 348.19 L551.30 347.86 L553.00 347.44 L554.70 346.93 L556.40 346.34 L558.10 345.66 L559.80 344.91 L561.50 344.08 L563.20 343.19 L564.90 342.23 L566.60 341.22 L568.30 340.16 L570.00 339.05 L571.70 337.91 L573.40 336.74 L575.10 335.55 L576.80 334.34 L578.50 333.12 L580.20 331.91 L581.90 330.70 L583.60 329.50 L585.30 328.33 L587.00 327.19 L588.70 326.08 L590.40 325.02 L592.10 324.01 L593.80 323.05 L595.50 322.16 L597.20 321.33 L598.90 320.58 L600.60 319.90 L602.30 319.31 L604.00 318.80 L605.70 318.38 L607.40 318.05 L609.10 317.81 L610.80 317.67 L612.50 317.62 L614.20 317.67 L615.90 317.81 L617.60 318.05 L619.30 318.38 L621.00 318.80 L622.70 319.31 L624.40 319.90 L626.10 320.58 L627.80 321.33 L629.50 322.16 L631.20 323.05 L632.90 324.01 L634.60 325.02 L636.30 326.08 L638.00 327.19 L639.70 328.33 L641.40 329.50 L643.10 330.70 L644.80 331.91 L646.50 333.12 L648.20 334.34 L649.90 335.55 L651.60 336.74 L653.30 337.91 L655.00 339.05 L656.70 340.16 L658.40 341.22 L660.10 342.23 L661.80 343.19 L663.50 344.08 L665.20 344.91 L666.90 345.66 L668.60 346.34 L670.30 346.93 L672.00 347.44 L673.70 347.86 L675.40 348.19 L677.10 348.43 L678.80 348.57 L680.50 348.62" fill="none" stroke="#ff0000" stroke-width="1.2" stroke-dasharray="12.4 3.28" clip-path="url(#cBR)" stroke-linejoin="round"/>
<path d="M408.50 287.56 L410.20 287.57 L411.90 287.60 L413.60 287.64 L415.30 287.71 L417.00 287.79 L418.70 287.88 L420.40 288.00 L422.10 288.12 L423.80 288.27 L425.50 288.42 L427.20 288.59 L428.90 288.77 L430.60 288.97 L432.30 289.17 L434.00 289.38 L435.70 289.59 L437.40 289.81 L439.10 290.04 L440.80 290.27 L442.50 290.50 L444.20 290.73 L445.90 290.96 L447.60 291.19 L449.30 291.41 L451.00 291.62 L452.70 291.83 L454.40 292.04 L456.10 292.23 L457.80 292.41 L459.50 292.58 L461.20 292.73 L462.90 292.88 L464.60 293.00 L466.30 293.12 L468.00 293.21 L469.70 293.29 L471.40 293.36 L473.10 293.40 L474.80 293.43 L476.50 293.44 L478.20 293.43 L479.90 293.40 L481.60 293.36 L483.30 293.29 L485.00 293.21 L486.70 293.12 L488.40 293.00 L490.10 292.88 L491.80 292.73 L493.50 292.58 L495.20 292.41 L496.90 292.23 L498.60 292.04 L500.30 291.83 L502.00 291.62 L503.70 291.41 L505.40 291.19 L507.10 290.96 L508.80 290.73 L510.50 290.50 L512.20 290.27 L513.90 290.04 L515.60 289.81 L517.30 289.59 L519.00 289.38 L520.70 289.17 L522.40 288.97 L524.10 288.77 L525.80 288.59 L527.50 288.42 L529.20 288.27 L530.90 288.12 L532.60 288.00 L534.30 287.88 L536.00 287.79 L537.70 287.71 L539.40 287.64 L541.10 287.60 L542.80 287.57 L544.50 287.56 L546.20 287.57 L547.90 287.60 L549.60 287.64 L551.30 287.71 L553.00 287.79 L554.70 287.88 L556.40 288.00 L558.10 288.12 L559.80 288.27 L561.50 288.42 L563.20 288.59 L564.90 288.77 L566.60 288.97 L568.30 289.17 L570.00 289.38 L571.70 289.59 L573.40 289.81 L575.10 290.04 L576.80 290.27 L578.50 290.50 L580.20 290.73 L581.90 290.96 L583.60 291.19 L585.30 291.41 L587.00 291.62 L588.70 291.83 L590.40 292.04 L592.10 292.23 L593.80 292.41 L595.50 292.58 L597.20 292.73 L598.90 292.88 L600.60 293.00 L602.30 293.12 L604.00 293.21 L605.70 293.29 L607.40 293.36 L609.10 293.40 L610.80 293.43 L612.50 293.44 L614.20 293.43 L615.90 293.40 L617.60 293.36 L619.30 293.29 L621.00 293.21 L622.70 293.12 L624.40 293.00 L626.10 292.88 L627.80 292.73 L629.50 292.58 L631.20 292.41 L632.90 292.23 L634.60 292.04 L636.30 291.83 L638.00 291.62 L639.70 291.41 L641.40 291.19 L643.10 290.96 L644.80 290.73 L646.50 290.50 L648.20 290.27 L649.90 290.04 L651.60 289.81 L653.30 289.59 L655.00 289.38 L656.70 289.17 L658.40 288.97 L660.10 288.77 L661.80 288.59 L663.50 288.42 L665.20 288.27 L666.90 288.12 L668.60 288.00 L670.30 287.88 L672.00 287.79 L673.70 287.71 L675.40 287.64 L677.10 287.60 L678.80 287.57 L680.50 287.56" fill="none" stroke="#0000ff" stroke-width="1.2" clip-path="url(#cBR)" stroke-linejoin="round"/>
<path d="M408.45 288.90H415.95M415.25 288.40H422.75M422.05 292.00H429.55M428.85 292.00H436.35M435.65 288.20H443.15M442.45 289.90H449.95M449.25 294.20H456.75M456.05 296.10H463.55M462.85 294.70H470.35M469.65 294.10H477.15M476.45 294.30H483.95M483.25 288.90H490.75M490.05 293.30H497.55M496.85 294.00H504.35M503.65 288.20H511.15M510.45 292.30H517.95M517.25 289.90H524.75M524.05 284.30H531.55M530.85 286.10H538.35M537.65 287.70H545.15M544.45 287.30H551.95M551.25 285.40H558.75M558.05 289.30H565.55M564.85 287.30H572.35M571.65 284.90H579.15M578.45 288.30H585.95M585.25 293.90H592.75M592.05 294.10H599.55M598.85 289.10H606.35M605.65 293.80H613.15M612.45 292.50H619.95M619.25 288.30H626.75M626.05 295.40H633.55M632.85 291.30H640.35M639.65 292.00H647.15M646.45 289.60H653.95M653.25 286.10H660.75M660.05 292.50H667.55M666.85 285.10H674.35M673.65 281.70H681.15" stroke="#000" stroke-width="1.6" fill="none" clip-path="url(#cBR)"/>
<path d="M412.20 285.76V292.04M419.00 285.25V291.55M425.80 288.89V295.11M432.60 288.89V295.11M439.40 285.05V291.35M446.20 286.77V293.03M453.00 291.11V297.29M459.80 293.04V299.16M466.60 291.62V297.78M473.40 291.01V297.19M480.20 291.22V297.38M487.00 285.76V292.04M493.80 290.20V296.40M500.60 290.91V297.09M507.40 285.05V291.35M514.20 289.19V295.41M521.00 286.77V293.03M527.80 281.11V287.49M534.60 282.93V289.27M541.40 284.54V290.86M548.20 284.14V290.46M555.00 282.22V288.58M561.80 286.16V292.44M568.60 284.14V290.46M575.40 281.71V288.09M582.20 285.15V291.45M589.00 290.81V296.99M595.80 291.01V297.19M602.60 285.96V292.24M609.40 290.71V296.89M616.20 289.40V295.60M623.00 285.15V291.45M629.80 292.33V298.47M636.60 288.18V294.42M643.40 288.89V295.11M650.20 286.46V292.74M657.00 282.93V289.27M663.80 289.40V295.60M670.60 281.91V288.29M677.40 278.48V284.92" stroke="#000" stroke-width="1.3" fill="none" clip-path="url(#cBR)"/>
<path d="M408.95 287.80v2.20M415.45 287.80v2.20M411.30 286.26h1.80M411.30 291.54h1.80M415.75 287.30v2.20M422.25 287.30v2.20M418.10 285.75h1.80M418.10 291.05h1.80M422.55 290.90v2.20M429.05 290.90v2.20M424.90 289.39h1.80M424.90 294.61h1.80M429.35 290.90v2.20M435.85 290.90v2.20M431.70 289.39h1.80M431.70 294.61h1.80M436.15 287.10v2.20M442.65 287.10v2.20M438.50 285.55h1.80M438.50 290.85h1.80M442.95 288.80v2.20M449.45 288.80v2.20M445.30 287.27h1.80M445.30 292.53h1.80M449.75 293.10v2.20M456.25 293.10v2.20M452.10 291.61h1.80M452.10 296.79h1.80M456.55 295.00v2.20M463.05 295.00v2.20M458.90 293.54h1.80M458.90 298.66h1.80M463.35 293.60v2.20M469.85 293.60v2.20M465.70 292.12h1.80M465.70 297.28h1.80M470.15 293.00v2.20M476.65 293.00v2.20M472.50 291.51h1.80M472.50 296.69h1.80M476.95 293.20v2.20M483.45 293.20v2.20M479.30 291.72h1.80M479.30 296.88h1.80M483.75 287.80v2.20M490.25 287.80v2.20M486.10 286.26h1.80M486.10 291.54h1.80M490.55 292.20v2.20M497.05 292.20v2.20M492.90 290.70h1.80M492.90 295.90h1.80M497.35 292.90v2.20M503.85 292.90v2.20M499.70 291.41h1.80M499.70 296.59h1.80M504.15 287.10v2.20M510.65 287.10v2.20M506.50 285.55h1.80M506.50 290.85h1.80M510.95 291.20v2.20M517.45 291.20v2.20M513.30 289.69h1.80M513.30 294.91h1.80M517.75 288.80v2.20M524.25 288.80v2.20M520.10 287.27h1.80M520.10 292.53h1.80M524.55 283.20v2.20M531.05 283.20v2.20M526.90 281.61h1.80M526.90 286.99h1.80M531.35 285.00v2.20M537.85 285.00v2.20M533.70 283.43h1.80M533.70 288.77h1.80M538.15 286.60v2.20M544.65 286.60v2.20M540.50 285.04h1.80M540.50 290.36h1.80M544.95 286.20v2.20M551.45 286.20v2.20M547.30 284.64h1.80M547.30 289.96h1.80M551.75 284.30v2.20M558.25 284.30v2.20M554.10 282.72h1.80M554.10 288.08h1.80M558.55 288.20v2.20M565.05 288.20v2.20M560.90 286.66h1.80M560.90 291.94h1.80M565.35 286.20v2.20M571.85 286.20v2.20M567.70 284.64h1.80M567.70 289.96h1.80M572.15 283.80v2.20M578.65 283.80v2.20M574.50 282.21h1.80M574.50 287.59h1.80M578.95 287.20v2.20M585.45 287.20v2.20M581.30 285.65h1.80M581.30 290.95h1.80M585.75 292.80v2.20M592.25 292.80v2.20M588.10 291.31h1.80M588.10 296.49h1.80M592.55 293.00v2.20M599.05 293.00v2.20M594.90 291.51h1.80M594.90 296.69h1.80M599.35 288.00v2.20M605.85 288.00v2.20M601.70 286.46h1.80M601.70 291.74h1.80M606.15 292.70v2.20M612.65 292.70v2.20M608.50 291.21h1.80M608.50 296.39h1.80M612.95 291.40v2.20M619.45 291.40v2.20M615.30 289.90h1.80M615.30 295.10h1.80M619.75 287.20v2.20M626.25 287.20v2.20M622.10 285.65h1.80M622.10 290.95h1.80M626.55 294.30v2.20M633.05 294.30v2.20M628.90 292.83h1.80M628.90 297.97h1.80M633.35 290.20v2.20M639.85 290.20v2.20M635.70 288.68h1.80M635.70 293.92h1.80M640.15 290.90v2.20M646.65 290.90v2.20M642.50 289.39h1.80M642.50 294.61h1.80M646.95 288.50v2.20M653.45 288.50v2.20M649.30 286.96h1.80M649.30 292.24h1.80M653.75 285.00v2.20M660.25 285.00v2.20M656.10 283.43h1.80M656.10 288.77h1.80M660.55 291.40v2.20M667.05 291.40v2.20M662.90 289.90h1.80M662.90 295.10h1.80M667.35 284.00v2.20M673.85 284.00v2.20M669.70 282.41h1.80M669.70 287.79h1.80M674.15 280.60v2.20M680.65 280.60v2.20M676.50 278.98h1.80M676.50 284.42h1.80" stroke="#000" stroke-width="1" fill="none" clip-path="url(#cBR)"/>
<g fill="#000" clip-path="url(#cBR)"><circle cx="412.20" cy="288.90" r="1.5"/><circle cx="419.00" cy="288.40" r="1.5"/><circle cx="425.80" cy="292.00" r="1.5"/><circle cx="432.60" cy="292.00" r="1.5"/><circle cx="439.40" cy="288.20" r="1.5"/><circle cx="446.20" cy="289.90" r="1.5"/><circle cx="453.00" cy="294.20" r="1.5"/><circle cx="459.80" cy="296.10" r="1.5"/><circle cx="466.60" cy="294.70" r="1.5"/><circle cx="473.40" cy="294.10" r="1.5"/><circle cx="480.20" cy="294.30" r="1.5"/><circle cx="487.00" cy="288.90" r="1.5"/><circle cx="493.80" cy="293.30" r="1.5"/><circle cx="500.60" cy="294.00" r="1.5"/><circle cx="507.40" cy="288.20" r="1.5"/><circle cx="514.20" cy="292.30" r="1.5"/><circle cx="521.00" cy="289.90" r="1.5"/><circle cx="527.80" cy="284.30" r="1.5"/><circle cx="534.60" cy="286.10" r="1.5"/><circle cx="541.40" cy="287.70" r="1.5"/><circle cx="548.20" cy="287.30" r="1.5"/><circle cx="555.00" cy="285.40" r="1.5"/><circle cx="561.80" cy="289.30" r="1.5"/><circle cx="568.60" cy="287.30" r="1.5"/><circle cx="575.40" cy="284.90" r="1.5"/><circle cx="582.20" cy="288.30" r="1.5"/><circle cx="589.00" cy="293.90" r="1.5"/><circle cx="595.80" cy="294.10" r="1.5"/><circle cx="602.60" cy="289.10" r="1.5"/><circle cx="609.40" cy="293.80" r="1.5"/><circle cx="616.20" cy="292.50" r="1.5"/><circle cx="623.00" cy="288.30" r="1.5"/><circle cx="629.80" cy="295.40" r="1.5"/><circle cx="636.60" cy="291.30" r="1.5"/><circle cx="643.40" cy="292.00" r="1.5"/><circle cx="650.20" cy="289.60" r="1.5"/><circle cx="657.00" cy="286.10" r="1.5"/><circle cx="663.80" cy="292.50" r="1.5"/><circle cx="670.60" cy="285.10" r="1.5"/><circle cx="677.40" cy="281.70" r="1.5"/></g>
<path d="M144.43 191.3v-5.4M144.43 7.3v5.4M236.92 191.3v-5.4M236.92 7.3v5.4M329.4 191.3v-5.4M329.4 7.3v5.4M70.45 191.3v-2.8M70.45 7.3v2.8M88.94 191.3v-2.8M88.94 7.3v2.8M107.44 191.3v-2.8M107.44 7.3v2.8M125.94 191.3v-2.8M125.94 7.3v2.8M162.93 191.3v-2.8M162.93 7.3v2.8M181.43 191.3v-2.8M181.43 7.3v2.8M199.92 191.3v-2.8M199.92 7.3v2.8M218.42 191.3v-2.8M218.42 7.3v2.8M255.41 191.3v-2.8M255.41 7.3v2.8M273.91 191.3v-2.8M273.91 7.3v2.8M292.41 191.3v-2.8M292.41 7.3v2.8M310.9 191.3v-2.8M310.9 7.3v2.8M57.5 191.3h8.0M329.4 191.3h-8.0M57.5 156.62h8.0M329.4 156.62h-8.0M57.5 121.94h8.0M329.4 121.94h-8.0M57.5 87.26h8.0M329.4 87.26h-8.0M57.5 52.58h8.0M329.4 52.58h-8.0M57.5 17.9h8.0M329.4 17.9h-8.0M57.5 180.86h4.0M329.4 180.86h-4.0M57.5 174.75h4.0M329.4 174.75h-4.0M57.5 170.42h4.0M329.4 170.42h-4.0M57.5 167.06h4.0M329.4 167.06h-4.0M57.5 164.31h4.0M329.4 164.31h-4.0M57.5 161.99h4.0M329.4 161.99h-4.0M57.5 159.98h4.0M329.4 159.98h-4.0M57.5 158.21h4.0M329.4 158.21h-4.0M57.5 146.18h4.0M329.4 146.18h-4.0M57.5 140.07h4.0M329.4 140.07h-4.0M57.5 135.74h4.0M329.4 135.74h-4.0M57.5 132.38h4.0M329.4 132.38h-4.0M57.5 129.63h4.0M329.4 129.63h-4.0M57.5 127.31h4.0M329.4 127.31h-4.0M57.5 125.3h4.0M329.4 125.3h-4.0M57.5 123.53h4.0M329.4 123.53h-4.0M57.5 111.5h4.0M329.4 111.5h-4.0M57.5 105.39h4.0M329.4 105.39h-4.0M57.5 101.06h4.0M329.4 101.06h-4.0M57.5 97.7h4.0M329.4 97.7h-4.0M57.5 94.95h4.0M329.4 94.95h-4.0M57.5 92.63h4.0M329.4 92.63h-4.0M57.5 90.62h4.0M329.4 90.62h-4.0M57.5 88.85h4.0M329.4 88.85h-4.0M57.5 76.82h4.0M329.4 76.82h-4.0M57.5 70.71h4.0M329.4 70.71h-4.0M57.5 66.38h4.0M329.4 66.38h-4.0M57.5 63.02h4.0M329.4 63.02h-4.0M57.5 60.27h4.0M329.4 60.27h-4.0M57.5 57.95h4.0M329.4 57.95h-4.0M57.5 55.94h4.0M329.4 55.94h-4.0M57.5 54.17h4.0M329.4 54.17h-4.0M57.5 42.14h4.0M329.4 42.14h-4.0M57.5 36.03h4.0M329.4 36.03h-4.0M57.5 31.7h4.0M329.4 31.7h-4.0M57.5 28.34h4.0M329.4 28.34h-4.0M57.5 25.59h4.0M329.4 25.59h-4.0M57.5 23.27h4.0M329.4 23.27h-4.0M57.5 21.26h4.0M329.4 21.26h-4.0M57.5 19.49h4.0M329.4 19.49h-4.0" stroke="#000" stroke-width="1.0" fill="none"/>
<rect x="57.5" y="7.3" width="271.9" height="184" fill="none" stroke="#000" stroke-width="1.2"/>
<path d="M408.5 191.5v-5.4M408.5 7.4v5.4M476.5 191.5v-5.4M476.5 7.4v5.4M544.5 191.5v-5.4M544.5 7.4v5.4M612.5 191.5v-5.4M612.5 7.4v5.4M680.5 191.5v-5.4M680.5 7.4v5.4M422.1 191.5v-2.8M422.1 7.4v2.8M435.7 191.5v-2.8M435.7 7.4v2.8M449.3 191.5v-2.8M449.3 7.4v2.8M462.9 191.5v-2.8M462.9 7.4v2.8M490.1 191.5v-2.8M490.1 7.4v2.8M503.7 191.5v-2.8M503.7 7.4v2.8M517.3 191.5v-2.8M517.3 7.4v2.8M530.9 191.5v-2.8M530.9 7.4v2.8M558.1 191.5v-2.8M558.1 7.4v2.8M571.7 191.5v-2.8M571.7 7.4v2.8M585.3 191.5v-2.8M585.3 7.4v2.8M598.9 191.5v-2.8M598.9 7.4v2.8M626.1 191.5v-2.8M626.1 7.4v2.8M639.7 191.5v-2.8M639.7 7.4v2.8M653.3 191.5v-2.8M653.3 7.4v2.8M666.9 191.5v-2.8M666.9 7.4v2.8M408.5 191.5h8.0M680.5 191.5h-8.0M408.5 165.2h8.0M680.5 165.2h-8.0M408.5 138.9h8.0M680.5 138.9h-8.0M408.5 112.6h8.0M680.5 112.6h-8.0M408.5 86.3h8.0M680.5 86.3h-8.0M408.5 60h8.0M680.5 60h-8.0M408.5 33.7h8.0M680.5 33.7h-8.0M408.5 7.4h8.0M680.5 7.4h-8.0M408.5 186.24h4.0M680.5 186.24h-4.0M408.5 180.98h4.0M680.5 180.98h-4.0M408.5 175.72h4.0M680.5 175.72h-4.0M408.5 170.46h4.0M680.5 170.46h-4.0M408.5 159.94h4.0M680.5 159.94h-4.0M408.5 154.68h4.0M680.5 154.68h-4.0M408.5 149.42h4.0M680.5 149.42h-4.0M408.5 144.16h4.0M680.5 144.16h-4.0M408.5 133.64h4.0M680.5 133.64h-4.0M408.5 128.38h4.0M680.5 128.38h-4.0M408.5 123.12h4.0M680.5 123.12h-4.0M408.5 117.86h4.0M680.5 117.86h-4.0M408.5 107.34h4.0M680.5 107.34h-4.0M408.5 102.08h4.0M680.5 102.08h-4.0M408.5 96.82h4.0M680.5 96.82h-4.0M408.5 91.56h4.0M680.5 91.56h-4.0M408.5 81.04h4.0M680.5 81.04h-4.0M408.5 75.78h4.0M680.5 75.78h-4.0M408.5 70.52h4.0M680.5 70.52h-4.0M408.5 65.26h4.0M680.5 65.26h-4.0M408.5 54.74h4.0M680.5 54.74h-4.0M408.5 49.48h4.0M680.5 49.48h-4.0M408.5 44.22h4.0M680.5 44.22h-4.0M408.5 38.96h4.0M680.5 38.96h-4.0M408.5 28.44h4.0M680.5 28.44h-4.0M408.5 23.18h4.0M680.5 23.18h-4.0M408.5 17.92h4.0M680.5 17.92h-4.0M408.5 12.66h4.0M680.5 12.66h-4.0" stroke="#000" stroke-width="1.0" fill="none"/>
<rect x="408.5" y="7.4" width="272" height="184.1" fill="none" stroke="#000" stroke-width="1.2"/>
<path d="M57.5 431.3v-5.4M57.5 247.6v5.4M125.45 431.3v-5.4M125.45 247.6v5.4M193.4 431.3v-5.4M193.4 247.6v5.4M261.35 431.3v-5.4M261.35 247.6v5.4M329.3 431.3v-5.4M329.3 247.6v5.4M71.09 431.3v-2.8M71.09 247.6v2.8M84.68 431.3v-2.8M84.68 247.6v2.8M98.27 431.3v-2.8M98.27 247.6v2.8M111.86 431.3v-2.8M111.86 247.6v2.8M139.04 431.3v-2.8M139.04 247.6v2.8M152.63 431.3v-2.8M152.63 247.6v2.8M166.22 431.3v-2.8M166.22 247.6v2.8M179.81 431.3v-2.8M179.81 247.6v2.8M206.99 431.3v-2.8M206.99 247.6v2.8M220.58 431.3v-2.8M220.58 247.6v2.8M234.17 431.3v-2.8M234.17 247.6v2.8M247.76 431.3v-2.8M247.76 247.6v2.8M274.94 431.3v-2.8M274.94 247.6v2.8M288.53 431.3v-2.8M288.53 247.6v2.8M302.12 431.3v-2.8M302.12 247.6v2.8M315.71 431.3v-2.8M315.71 247.6v2.8M57.5 431.3h8.0M329.3 431.3h-8.0M57.5 410.89h8.0M329.3 410.89h-8.0M57.5 390.48h8.0M329.3 390.48h-8.0M57.5 370.07h8.0M329.3 370.07h-8.0M57.5 349.66h8.0M329.3 349.66h-8.0M57.5 329.24h8.0M329.3 329.24h-8.0M57.5 308.83h8.0M329.3 308.83h-8.0M57.5 288.42h8.0M329.3 288.42h-8.0M57.5 268.01h8.0M329.3 268.01h-8.0M57.5 247.6h8.0M329.3 247.6h-8.0M57.5 427.22h4.0M329.3 427.22h-4.0M57.5 423.14h4.0M329.3 423.14h-4.0M57.5 419.05h4.0M329.3 419.05h-4.0M57.5 414.97h4.0M329.3 414.97h-4.0M57.5 406.81h4.0M329.3 406.81h-4.0M57.5 402.72h4.0M329.3 402.72h-4.0M57.5 398.64h4.0M329.3 398.64h-4.0M57.5 394.56h4.0M329.3 394.56h-4.0M57.5 386.4h4.0M329.3 386.4h-4.0M57.5 382.31h4.0M329.3 382.31h-4.0M57.5 378.23h4.0M329.3 378.23h-4.0M57.5 374.15h4.0M329.3 374.15h-4.0M57.5 365.98h4.0M329.3 365.98h-4.0M57.5 361.9h4.0M329.3 361.9h-4.0M57.5 357.82h4.0M329.3 357.82h-4.0M57.5 353.74h4.0M329.3 353.74h-4.0M57.5 345.57h4.0M329.3 345.57h-4.0M57.5 341.49h4.0M329.3 341.49h-4.0M57.5 337.41h4.0M329.3 337.41h-4.0M57.5 333.33h4.0M329.3 333.33h-4.0M57.5 325.16h4.0M329.3 325.16h-4.0M57.5 321.08h4.0M329.3 321.08h-4.0M57.5 317h4.0M329.3 317h-4.0M57.5 312.92h4.0M329.3 312.92h-4.0M57.5 304.75h4.0M329.3 304.75h-4.0M57.5 300.67h4.0M329.3 300.67h-4.0M57.5 296.59h4.0M329.3 296.59h-4.0M57.5 292.5h4.0M329.3 292.5h-4.0M57.5 284.34h4.0M329.3 284.34h-4.0M57.5 280.26h4.0M329.3 280.26h-4.0M57.5 276.18h4.0M329.3 276.18h-4.0M57.5 272.09h4.0M329.3 272.09h-4.0M57.5 263.93h4.0M329.3 263.93h-4.0M57.5 259.85h4.0M329.3 259.85h-4.0M57.5 255.76h4.0M329.3 255.76h-4.0M57.5 251.68h4.0M329.3 251.68h-4.0" stroke="#000" stroke-width="1.0" fill="none"/>
<rect x="57.5" y="247.6" width="271.8" height="183.7" fill="none" stroke="#000" stroke-width="1.2"/>
<path d="M457.92 431.4v-5.4M457.92 247.8v5.4M544.5 431.4v-5.4M544.5 247.8v5.4M631.08 431.4v-5.4M631.08 247.8v5.4M414.63 431.4v-2.8M414.63 247.8v2.8M436.27 431.4v-2.8M436.27 247.8v2.8M479.56 431.4v-2.8M479.56 247.8v2.8M501.21 431.4v-2.8M501.21 247.8v2.8M522.85 431.4v-2.8M522.85 247.8v2.8M566.15 431.4v-2.8M566.15 247.8v2.8M587.79 431.4v-2.8M587.79 247.8v2.8M609.44 431.4v-2.8M609.44 247.8v2.8M652.73 431.4v-2.8M652.73 247.8v2.8M674.37 431.4v-2.8M674.37 247.8v2.8M408.5 431.4h8.0M680.5 431.4h-8.0M408.5 405.17h8.0M680.5 405.17h-8.0M408.5 378.94h8.0M680.5 378.94h-8.0M408.5 352.71h8.0M680.5 352.71h-8.0M408.5 326.49h8.0M680.5 326.49h-8.0M408.5 300.26h8.0M680.5 300.26h-8.0M408.5 274.03h8.0M680.5 274.03h-8.0M408.5 247.8h8.0M680.5 247.8h-8.0M408.5 426.15h4.0M680.5 426.15h-4.0M408.5 420.91h4.0M680.5 420.91h-4.0M408.5 415.66h4.0M680.5 415.66h-4.0M408.5 410.42h4.0M680.5 410.42h-4.0M408.5 399.93h4.0M680.5 399.93h-4.0M408.5 394.68h4.0M680.5 394.68h-4.0M408.5 389.43h4.0M680.5 389.43h-4.0M408.5 384.19h4.0M680.5 384.19h-4.0M408.5 373.7h4.0M680.5 373.7h-4.0M408.5 368.45h4.0M680.5 368.45h-4.0M408.5 363.21h4.0M680.5 363.21h-4.0M408.5 357.96h4.0M680.5 357.96h-4.0M408.5 347.47h4.0M680.5 347.47h-4.0M408.5 342.22h4.0M680.5 342.22h-4.0M408.5 336.98h4.0M680.5 336.98h-4.0M408.5 331.73h4.0M680.5 331.73h-4.0M408.5 321.24h4.0M680.5 321.24h-4.0M408.5 315.99h4.0M680.5 315.99h-4.0M408.5 310.75h4.0M680.5 310.75h-4.0M408.5 305.5h4.0M680.5 305.5h-4.0M408.5 295.01h4.0M680.5 295.01h-4.0M408.5 289.77h4.0M680.5 289.77h-4.0M408.5 284.52h4.0M680.5 284.52h-4.0M408.5 279.27h4.0M680.5 279.27h-4.0M408.5 268.78h4.0M680.5 268.78h-4.0M408.5 263.54h4.0M680.5 263.54h-4.0M408.5 258.29h4.0M680.5 258.29h-4.0M408.5 253.05h4.0M680.5 253.05h-4.0" stroke="#000" stroke-width="1.0" fill="none"/>
<rect x="408.5" y="247.8" width="272" height="183.6" fill="none" stroke="#000" stroke-width="1.2"/>
<text x="144.43" y="205.1" font-size="13.8" text-anchor="middle" >5</text>
<text x="236.92" y="205.1" font-size="13.8" text-anchor="middle" >10</text>
<text x="329.4" y="205.1" font-size="13.8" text-anchor="middle" >15</text>
<text x="52.2" y="197.3" font-size="13.8" text-anchor="end" >10<tspan font-size="9.4" dy="-6.2">−1</tspan></text>
<text x="52.2" y="161.92" font-size="13.8" text-anchor="end" >1</text>
<text x="52.2" y="127.24" font-size="13.8" text-anchor="end" >10</text>
<text x="52.2" y="93.26" font-size="13.8" text-anchor="end" >10<tspan font-size="9.4" dy="-6.2">2</tspan></text>
<text x="52.2" y="58.58" font-size="13.8" text-anchor="end" >10<tspan font-size="9.4" dy="-6.2">3</tspan></text>
<text x="52.2" y="23.9" font-size="13.8" text-anchor="end" >10<tspan font-size="9.4" dy="-6.2">4</tspan></text>
<text x="408.5" y="205.3" font-size="13.8" text-anchor="middle" >−1</text>
<text x="476.5" y="205.3" font-size="13.8" text-anchor="middle" >−0.5</text>
<text x="544.5" y="205.3" font-size="13.8" text-anchor="middle" >0</text>
<text x="612.5" y="205.3" font-size="13.8" text-anchor="middle" >0.5</text>
<text x="680.5" y="205.3" font-size="13.8" text-anchor="middle" >1</text>
<text x="405.3" y="196.5" font-size="13.8" text-anchor="end" >0</text>
<text x="405.3" y="170.2" font-size="13.8" text-anchor="end" >500</text>
<text x="405.3" y="143.9" font-size="13.8" text-anchor="end" >1000</text>
<text x="405.3" y="117.6" font-size="13.8" text-anchor="end" >1500</text>
<text x="405.3" y="91.3" font-size="13.8" text-anchor="end" >2000</text>
<text x="405.3" y="65" font-size="13.8" text-anchor="end" >2500</text>
<text x="405.3" y="38.7" font-size="13.8" text-anchor="end" >3000</text>
<text x="405.3" y="12.4" font-size="13.8" text-anchor="end" >3500</text>
<text x="57.5" y="444.9" font-size="13.8" text-anchor="middle" >−1</text>
<text x="125.45" y="444.9" font-size="13.8" text-anchor="middle" >−0.5</text>
<text x="193.4" y="444.9" font-size="13.8" text-anchor="middle" >0</text>
<text x="261.35" y="444.9" font-size="13.8" text-anchor="middle" >0.5</text>
<text x="329.3" y="444.9" font-size="13.8" text-anchor="middle" >1</text>
<text x="54" y="436.5" font-size="13.8" text-anchor="end" >0</text>
<text x="54" y="416.09" font-size="13.8" text-anchor="end" >500</text>
<text x="54" y="395.68" font-size="13.8" text-anchor="end" >1000</text>
<text x="54" y="375.27" font-size="13.8" text-anchor="end" >1500</text>
<text x="54" y="354.86" font-size="13.8" text-anchor="end" >2000</text>
<text x="54" y="334.44" font-size="13.8" text-anchor="end" >2500</text>
<text x="54" y="314.03" font-size="13.8" text-anchor="end" >3000</text>
<text x="54" y="293.62" font-size="13.8" text-anchor="end" >3500</text>
<text x="54" y="273.21" font-size="13.8" text-anchor="end" >4000</text>
<text x="54" y="252.8" font-size="13.8" text-anchor="end" >4500</text>
<text x="457.92" y="444.9" font-size="13.8" text-anchor="middle" >−2</text>
<text x="544.5" y="444.9" font-size="13.8" text-anchor="middle" >0</text>
<text x="631.08" y="444.9" font-size="13.8" text-anchor="middle" >2</text>
<text x="405.3" y="436.4" font-size="13.8" text-anchor="end" >0</text>
<text x="405.3" y="410.17" font-size="13.8" text-anchor="end" >500</text>
<text x="405.3" y="383.94" font-size="13.8" text-anchor="end" >1000</text>
<text x="405.3" y="357.71" font-size="13.8" text-anchor="end" >1500</text>
<text x="405.3" y="331.49" font-size="13.8" text-anchor="end" >2000</text>
<text x="405.3" y="305.26" font-size="13.8" text-anchor="end" >2500</text>
<text x="405.3" y="279.03" font-size="13.8" text-anchor="end" >3000</text>
<text x="405.3" y="252.8" font-size="13.8" text-anchor="end" >3500</text>
<text transform="translate(13.9 6) rotate(-90)" font-size="16.3" text-anchor="end">Weighted cands. / (0.3 ps)</text>
<text transform="translate(369.9 6.9) rotate(-90)" font-size="16.3" text-anchor="end">Weighted cands. / 0.05</text>
<text transform="translate(19 247.8) rotate(-90)" font-size="16.3" text-anchor="end">Weighted cands. / 0.05</text>
<text transform="translate(370.9 247.2) rotate(-90)" font-size="16.3" text-anchor="end">Weighted cands. / (0.05<tspan dx="1.3">π</tspan> rad)</text>
<text x="330.3" y="225.5" font-size="16.3" text-anchor="end" >Decay time [ps]</text>
<text x="680" y="223.5" font-size="16.3" text-anchor="end" >cos <tspan font-style="italic" font-size="16.9">θ</tspan><tspan font-style="italic" font-size="11.5" dy="4">μ</tspan></text>
<text x="328.8" y="465.2" font-size="16.3" text-anchor="end" >cos <tspan font-style="italic" font-size="16.9">θ</tspan><tspan font-style="italic" font-size="10.6" dy="4.6" dx="0.3">K</tspan></text>
<text x="681" y="463.5" font-size="16.3" text-anchor="end" ><tspan font-style="italic">ϕ</tspan><tspan font-style="italic" font-size="10.5" dy="8.5" dx="0.6">h</tspan><tspan dy="-8.5" dx="-0.6"> [rad]</tspan></text>
<text x="267" y="34" font-size="13.8" text-anchor="start" >LHCb</text>
<text x="618.2" y="34.2" font-size="13.8" text-anchor="start" >LHCb</text>
<text x="267" y="274.8" font-size="13.8" text-anchor="start" >LHCb</text>
<text x="618.2" y="275" font-size="13.8" text-anchor="start" >LHCb</text>
</svg>
</body></html>
